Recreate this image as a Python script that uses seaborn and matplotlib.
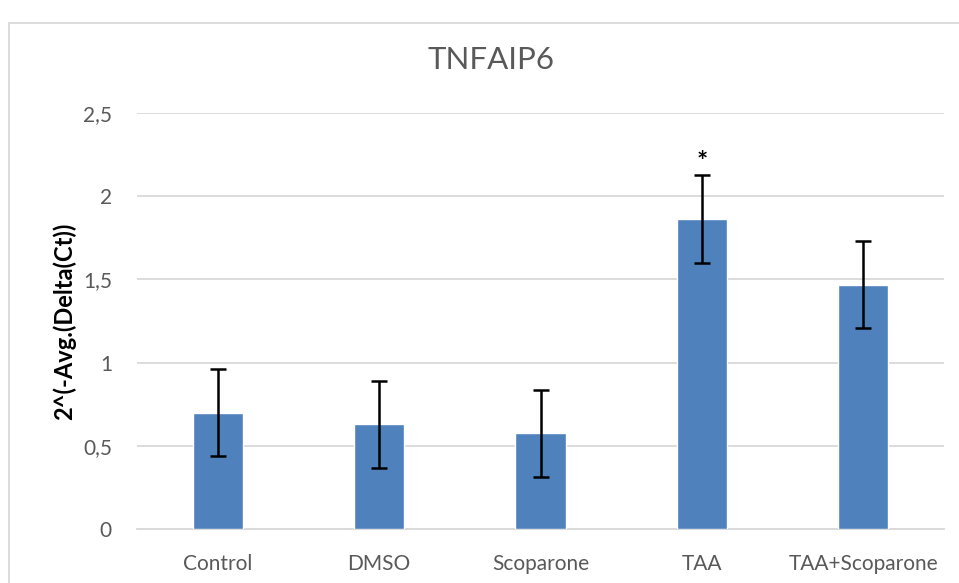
import matplotlib
matplotlib.use("Agg")
import matplotlib.pyplot as plt
import seaborn as sns
import pandas as pd
from matplotlib.patches import Rectangle

categories = ["Control", "DMSO", "Scoparone", "TAA", "TAA+Scoparone"]
values = [0.698, 0.630, 0.576, 1.862, 1.469]
errors = [0.262, 0.262, 0.262, 0.263, 0.263]
significance = ["", "", "", "*", ""]
yticks = [0, 0.5, 1, 1.5, 2, 2.5]
ytick_labels = ["0", "0,5", "1", "1,5", "2", "2,5"]

sns.set_theme(style="white")
plt.rcParams["font.family"] = ["Lato", "DejaVu Sans"]

df = pd.DataFrame({"cat": categories, "val": values})

fig = plt.figure(figsize=(9.59, 5.83), dpi=100)
ax = fig.add_axes([137 / 959, 1 - 529 / 583, (944 - 137) / 959, (529 - 113) / 583])

sns.barplot(data=df, x="cat", y="val", color="#4f81bd", saturation=1,
            width=0.31, errorbar=None, ax=ax, zorder=3)
ax.errorbar(range(len(categories)), values, yerr=errors, fmt="none",
            ecolor="black", elinewidth=1.8, capsize=5.5, capthick=1.8, zorder=4)

for i, s in enumerate(significance):
    if s:
        ax.annotate(s, xy=(i, values[i] + errors[i]), xytext=(0, 1),
                    textcoords="offset points", ha="center", va="bottom",
                    fontsize=19, fontweight="bold", color="black",
                    annotation_clip=False)

ax.set_ylim(0, 2.5)
ax.set_xlim(-0.5, len(categories) - 0.5)
ax.set_yticks(yticks)
ax.set_yticklabels(ytick_labels)
ax.yaxis.grid(True, color="#d9d9d9", linewidth=1.3, zorder=0)
ax.set_axisbelow(True)
for side in ["top", "right", "left"]:
    ax.spines[side].set_visible(False)
ax.spines["bottom"].set_color("#d9d9d9")
ax.spines["bottom"].set_linewidth(1.3)
ax.tick_params(axis="both", length=0, labelsize=15, labelcolor="#595959")
ax.tick_params(axis="x", pad=18)
ax.tick_params(axis="y", pad=18)
ax.set_xlabel("")
ax.set_ylabel("2^(-Avg.(Delta(Ct))", fontsize=17, fontweight="bold",
              color="black", labelpad=5)

fig.text(491 / 959, 1 - 60 / 583, "TNFAIP6", ha="center", va="center",
         fontsize=22.5, color="#595959")

fig.patches.append(Rectangle((9 / 959, -0.01), 1.0, 1 - 23 / 583 + 0.01,
                             transform=fig.transFigure, fill=False,
                             edgecolor="#d9d9d9", linewidth=1.3))

fig.savefig("out.png", dpi=100)
